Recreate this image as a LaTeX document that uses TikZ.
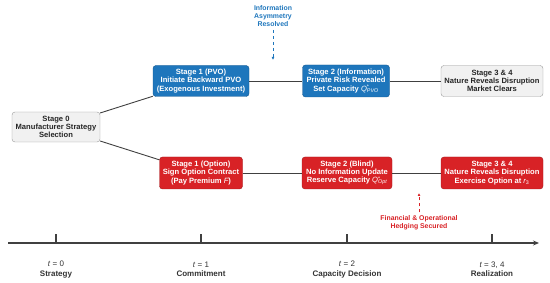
\documentclass[tikz,border=0pt]{standalone}
\usepackage{fontspec}
\setmainfont{Liberation Sans}
\usetikzlibrary{arrows.meta,positioning}
\definecolor{pvo-blue}{RGB}{30,118,188}
\definecolor{opt-red}{RGB}{216,34,38}
\definecolor{base-grey}{RGB}{241,241,241}
\definecolor{line-grey}{RGB}{64,64,64}

\begin{document}
\begin{tikzpicture}[x=1pt, y=-1pt,
    stagebox/.style={rectangle, draw, rounded corners=3pt, align=center, inner sep=1pt,
        font=\fontsize{7.6}{8.3}\selectfont\bfseries},
    greybox/.style={stagebox, fill=base-grey, draw=black!40, text=black!85},
    bluebox/.style={stagebox, fill=pvo-blue, draw=pvo-blue!75!black, text=white},
    redbox/.style={stagebox, fill=opt-red, draw=opt-red!75!black, text=white},
    link/.style={line-grey, line width=0.9pt},
    note/.style={align=center, font=\fontsize{6.9}{7.8}\selectfont\bfseries},
    timelabel/.style={align=center, font=\fontsize{8}{9.2}\selectfont, text=black!80}]
    \useasboundingbox (0,0) rectangle (550,283);

    % Stage 0
    \node[greybox, minimum width=88pt, minimum height=30pt] (s0) at (56,127) {Stage 0\\Manufacturer Strategy\\Selection};

    % PVO branch
    \node[bluebox, minimum width=96pt, minimum height=31pt] (pvo1) at (201,81) {Stage 1 (PVO)\\Initiate Backward PVO\\(Exogenous Investment)};
    \node[bluebox, minimum width=87pt, minimum height=32pt] (pvo2) at (346,81) {Stage 2 (Information)\\Private Risk Revealed\\Set Capacity {\mdseries\itshape Q}\rlap{\textsuperscript{\mdseries *}}\textsubscript{\mdseries\itshape PVO}};
    \node[greybox, minimum width=102pt, minimum height=31pt] (pvo3) at (492,81) {Stage 3 \& 4\\Nature Reveals Disruption\\Market Clears};

    % Option branch
    \node[redbox, minimum width=83pt, minimum height=32pt] (opt1) at (201,173) {Stage 1 (Option)\\Sign Option Contract\\(Pay Premium {\mdseries\itshape F})};
    \node[redbox, minimum width=90pt, minimum height=32pt] (opt2) at (347,173) {Stage 2 (Blind)\\No Information Update\\Reserve Capacity {\mdseries\itshape Q}\rlap{\textsuperscript{\mdseries *}}\textsubscript{\mdseries\itshape Opt}};
    \node[redbox, minimum width=102pt, minimum height=32pt] (opt3) at (492,173) {Stage 3 \& 4\\Nature Reveals Disruption\\Exercise Option at {\mdseries\itshape r}\textsubscript{\mdseries 3}};

    % Connections
    \draw[link] (s0) -- (pvo1);
    \draw[link] (s0) -- (opt1);
    \draw[link] (pvo1) -- (pvo2);
    \draw[link] (pvo2) -- (pvo3);
    \draw[link] (opt1) -- (opt2);
    \draw[link] (opt2) -- (opt3);

    % Annotations
    \node[note, text=pvo-blue] (infonote) at (273,16) {Information\\Asymmetry\\Resolved};
    \coordinate (infotip) at (273,60);
    \draw[pvo-blue, line width=1pt, dashed, -{Latex[length=3pt,width=3pt]}] (infonote) -- (infotip);

    \node[note, text=opt-red] (hedgenote) at (419,223) {Financial \& Operational\\Hedging Secured};
    \coordinate (hedgetip) at (419,193);
    \draw[opt-red, line width=1pt, dashed, -{Latex[length=3pt,width=3pt]}] (hedgenote) -- (hedgetip);

    % Timeline
    \coordinate (tlstart) at (8,243);
    \coordinate (tlend) at (539,243);
    \draw[line-grey, line width=1.6pt, -{Stealth[length=6pt,width=5pt]}] (tlstart) -- (tlend);
    \foreach \x/\t/\lab/\name in {56/0/Strategy/tzero, 201/1/Commitment/tone, 347/2/Capacity Decision/ttwo, 492/{3, 4}/Realization/tfour} {
        \draw[line-grey, line width=1.2pt] (\x,243) -- (\x,234);
        \node[timelabel] (\name) at (\x,269.5) {\textit{t} = \t\\\textbf{\lab}};
    }
\end{tikzpicture}
\end{document}
